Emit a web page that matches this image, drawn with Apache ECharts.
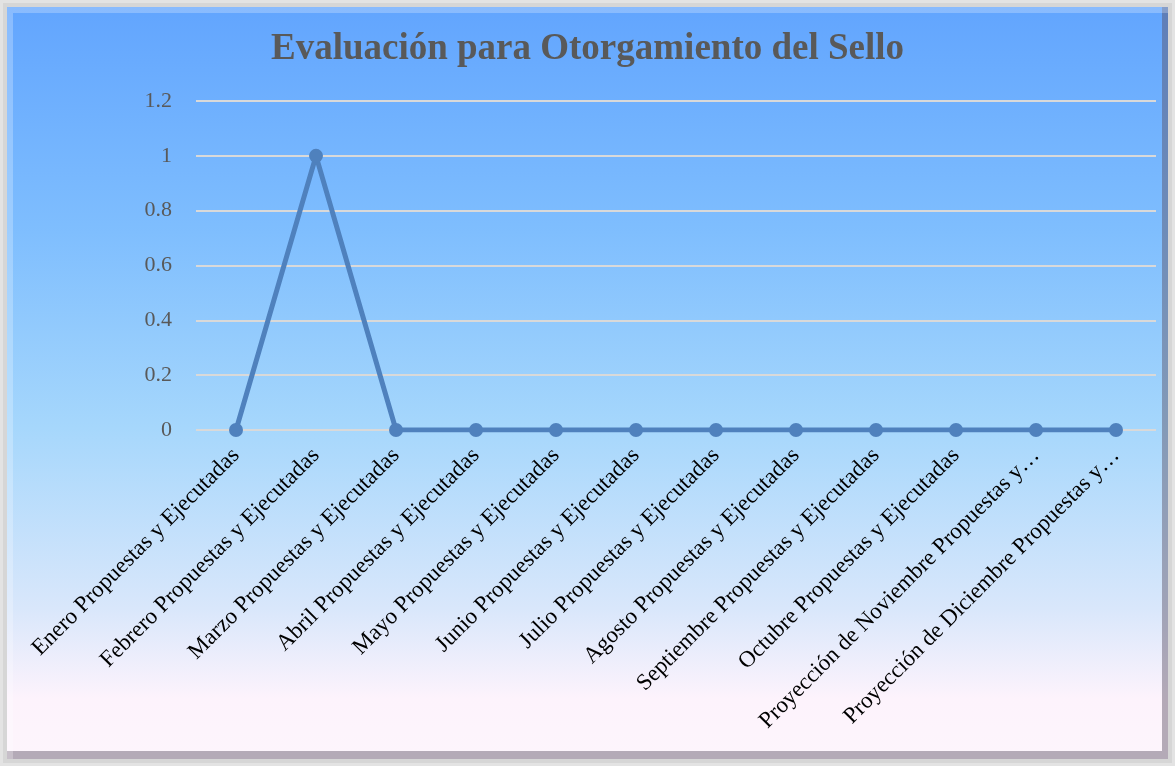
<!DOCTYPE html>
<html>
<head>
<meta charset="utf-8">
<script src="https://cdn.jsdelivr.net/npm/echarts@6/dist/echarts.min.js"></script>
<style>
  html, body { margin: 0; padding: 0; background: #ffffff; }
  .frame {
    position: absolute; left: 0; top: 0; width: 1175px; height: 766px;
    box-sizing: border-box; border: 3px solid #e3e3e3; background: #d6d6d6;
  }
  .panel {
    position: absolute; left: 4px; top: 4px; right: 4px; bottom: 4px;
    background: linear-gradient(to bottom, #62a5fe 0%, #7fbefe 30%, #a6d7fc 56%, #d9e7fb 80%, #fdf3fc 92%, #fdf5fc 100%);
    box-shadow: inset 6px 6px 0 rgba(255,255,255,0.25), inset -6px -8px 0 rgba(90,80,100,0.45);
  }
  #chart { position: absolute; left: 0; top: 0; width: 1175px; height: 766px; }
</style>
</head>
<body>
<div class="frame"><div class="panel"></div></div>
<div id="chart"></div>
<script>
const categories = [
  'Enero Propuestas y Ejecutadas',
  'Febrero Propuestas y Ejecutadas',
  'Marzo Propuestas y Ejecutadas',
  'Abril Propuestas y Ejecutadas',
  'Mayo Propuestas y Ejecutadas',
  'Junio Propuestas y Ejecutadas',
  'Julio Propuestas y Ejecutadas',
  'Agosto Propuestas y Ejecutadas',
  'Septiembre Propuestas y Ejecutadas',
  'Octubre Propuestas y Ejecutadas',
  'Proyección de Noviembre Propuestas y Ejecutadas',
  'Proyección de Diciembre Propuestas y Ejecutadas'
]
const values = [0, 1, 0, 0, 0, 0, 0, 0, 0, 0, 0, 0]

const serif = "'Liberation Serif', 'Times New Roman', serif"
const chart = echarts.init(document.getElementById('chart'), null, { renderer: 'canvas' })

chart.setOption({
  backgroundColor: 'transparent',
  animation: false,
  title: {
    text: 'Evaluación para Otorgamiento del Sello',
    left: 'center', top: 26,
    textStyle: { color: '#595959', fontSize: 37, fontWeight: 'bold', fontFamily: serif }
  },
  grid: { left: 196, right: 19, top: 101, height: 329 },
  xAxis: {
    type: 'category', data: categories, boundaryGap: true,
    axisLine: { show: false },
    axisTick: { show: false },
    axisLabel: {
      interval: 0, rotate: 45, margin: 22,
      color: '#000000', fontSize: 23, fontFamily: serif,
      width: 388, overflow: 'truncate', ellipsis: '…'
    }
  },
  yAxis: {
    type: 'value', min: 0, max: 1.2, interval: 0.2,
    axisLine: { show: false },
    axisTick: { show: false },
    splitLine: { lineStyle: { color: '#d9d9d9', width: 2 } },
    axisLabel: {
      color: '#595959', fontSize: 22, fontFamily: serif, margin: 24,
      formatter: v => String(Math.round(v * 10) / 10)
    }
  },
  series: [{
    type: 'line', data: values,
    symbol: 'circle', symbolSize: 14,
    lineStyle: { color: '#4f81bd', width: 5 },
    itemStyle: { color: '#4f81bd' }
  }]
})
</script>
</body>
</html>
